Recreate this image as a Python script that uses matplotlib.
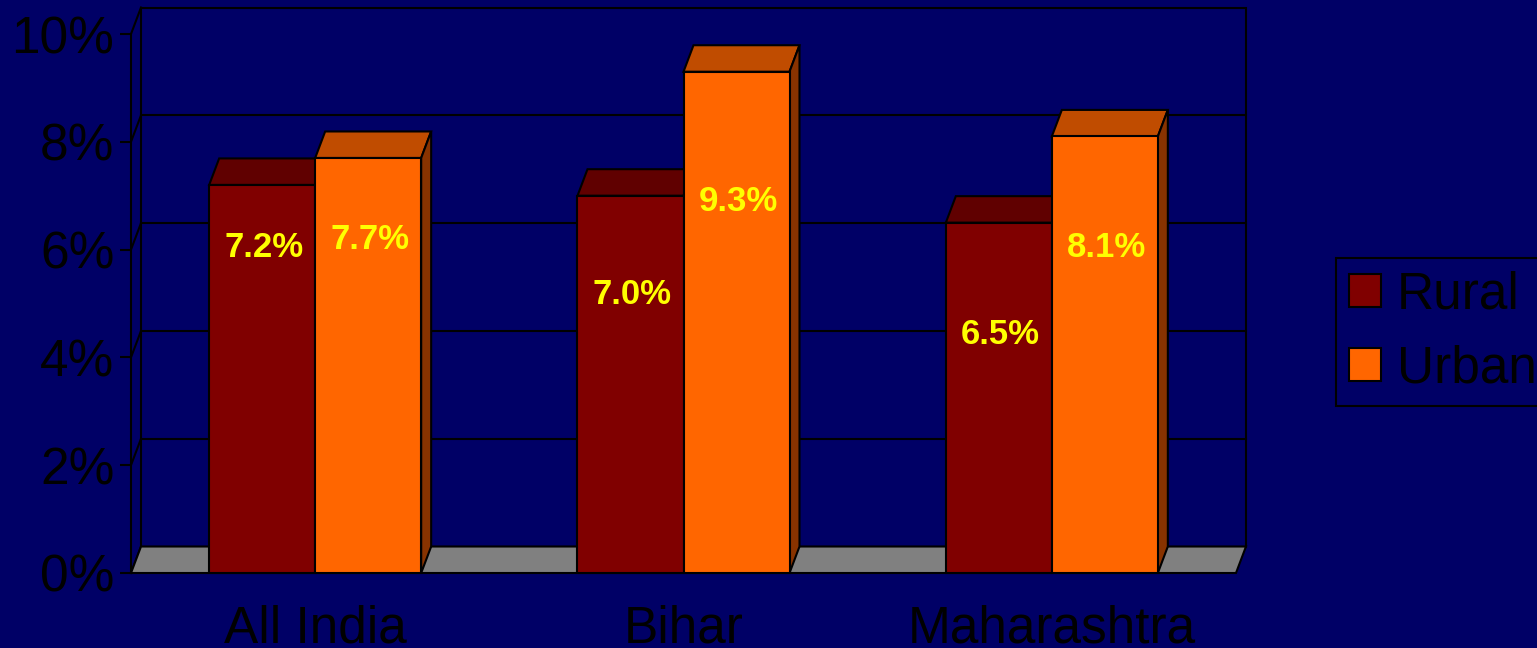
import matplotlib
matplotlib.use("Agg")
import matplotlib.pyplot as plt
from matplotlib.patches import Polygon, Patch

plt.rcParams['font.family'] = ['Liberation Sans', 'DejaVu Sans']

# data
regions = ["All India", "Bihar", "Maharashtra"]
rural = [7.2, 7.0, 6.5]
urban = [7.7, 9.3, 8.1]
series_names = ["Rural", "Urban"]
yticks = [0, 2, 4, 6, 8, 10]

# where Excel dropped the value labels (how far below the bar top, in %)
rural_label_drop = [1.17, 1.84, 2.08]
urban_label_drop = [1.52, 2.4, 2.06]

BG = "#000066"
RURAL = "#800000"
RURAL_TOP = "#600000"
URBAN = "#FF6600"
URBAN_TOP = "#C04C00"
URBAN_SIDE = "#883300"
FLOOR = "#808080"

W, H = 1537, 648
fig = plt.figure(figsize=(W / 100, H / 100), dpi=100, facecolor=BG)
# front plane of the plot: x 131..1236 px, y 573..34 px
ax = fig.add_axes([131 / W, (H - 573) / H, 1105 / W, 539 / H])
ax.set_xlim(0, 3)
ax.set_ylim(0, 10)
ax.set_facecolor("none")
for s in ax.spines.values():
    s.set_visible(False)

# depth offset of the 3D box in data units
dx = 10 / 368.33
dy = 26.5 / 53.9
bw = 0.2878

lw = 1.5

def poly(pts, fc, z=2):
    ax.add_patch(Polygon(pts, closed=True, facecolor=fc, edgecolor="black",
                         linewidth=lw, zorder=z, clip_on=False, joinstyle="miter"))

# back wall + gridlines
ax.add_patch(Polygon([(dx, dy), (3 + dx, dy), (3 + dx, 10 + dy), (dx, 10 + dy)],
                     closed=True, facecolor=BG, edgecolor="black", linewidth=lw,
                     zorder=0, clip_on=False))
for t in yticks[1:-1]:
    ax.plot([dx, 3 + dx], [t + dy, t + dy], color="black", lw=lw, zorder=0.5, clip_on=False)
for t in yticks:
    ax.plot([0, dx], [t, t + dy], color="black", lw=lw, zorder=0.5, clip_on=False)

# floor
poly([(0, 0), (3, 0), (3 + dx, dy), (dx, dy)], FLOOR, z=1)

# front y axis
ax.plot([0, 0], [0, 10], color="black", lw=lw, zorder=1.5, clip_on=False)

# bars
for i in range(len(regions)):
    c = i + 0.5
    r, u = rural[i], urban[i]
    x0, x1, x2 = c - bw, c, c + bw
    # rural
    poly([(x0, r), (x1, r), (x1 + dx, r + dy), (x0 + dx, r + dy)], RURAL_TOP, z=2)
    poly([(x1, 0), (x1 + dx, dy), (x1 + dx, r + dy), (x1, r)], RURAL_TOP, z=2)
    poly([(x0, 0), (x1, 0), (x1, r), (x0, r)], RURAL, z=2.1)
    # urban
    poly([(x1, u), (x2, u), (x2 + dx, u + dy), (x1 + dx, u + dy)], URBAN_TOP, z=2.2)
    poly([(x2, 0), (x2 + dx, dy), (x2 + dx, u + dy), (x2, u)], URBAN_SIDE, z=2.2)
    poly([(x1, 0), (x2, 0), (x2, u), (x1, u)], URBAN, z=2.3)

    ax.text((x0 + x1) / 2 + 0.005, r - rural_label_drop[i], f"{r:.1f}%", color="yellow",
            fontsize=25, fontweight="bold", ha="center", va="center", zorder=5)
    ax.text((x1 + x2) / 2 + 0.005, u - urban_label_drop[i], f"{u:.1f}%", color="yellow",
            fontsize=25, fontweight="bold", ha="center", va="center", zorder=5)

# axis ticks / labels
ax.set_yticks(yticks)
ax.set_yticklabels([f"{t}%" for t in yticks], fontsize=37, color="black")
ax.tick_params(axis="y", length=8, width=lw, color="black", pad=4)
ax.set_xticks([i + 0.5 for i in range(len(regions))])
ax.set_xticklabels(regions, fontsize=37, color="black")
ax.tick_params(axis="x", length=0, pad=23)

handles = [Patch(facecolor=RURAL, edgecolor="black", linewidth=lw),
           Patch(facecolor=URBAN, edgecolor="black", linewidth=lw)]
leg = fig.legend(handles, series_names, loc="upper left",
                 bbox_to_anchor=(1336 / W, 1 - 258 / H), bbox_transform=fig.transFigure,
                 fontsize=37, frameon=True, fancybox=False, framealpha=1,
                 facecolor=BG, edgecolor="black", handlelength=0.62, handleheight=0.62,
                 handletextpad=0.32, borderpad=0.25, labelspacing=0.48, borderaxespad=0)
leg.get_frame().set_linewidth(lw)
for t in leg.get_texts():
    t.set_color("black")

fig.savefig("out.png", dpi=100, facecolor=BG)
